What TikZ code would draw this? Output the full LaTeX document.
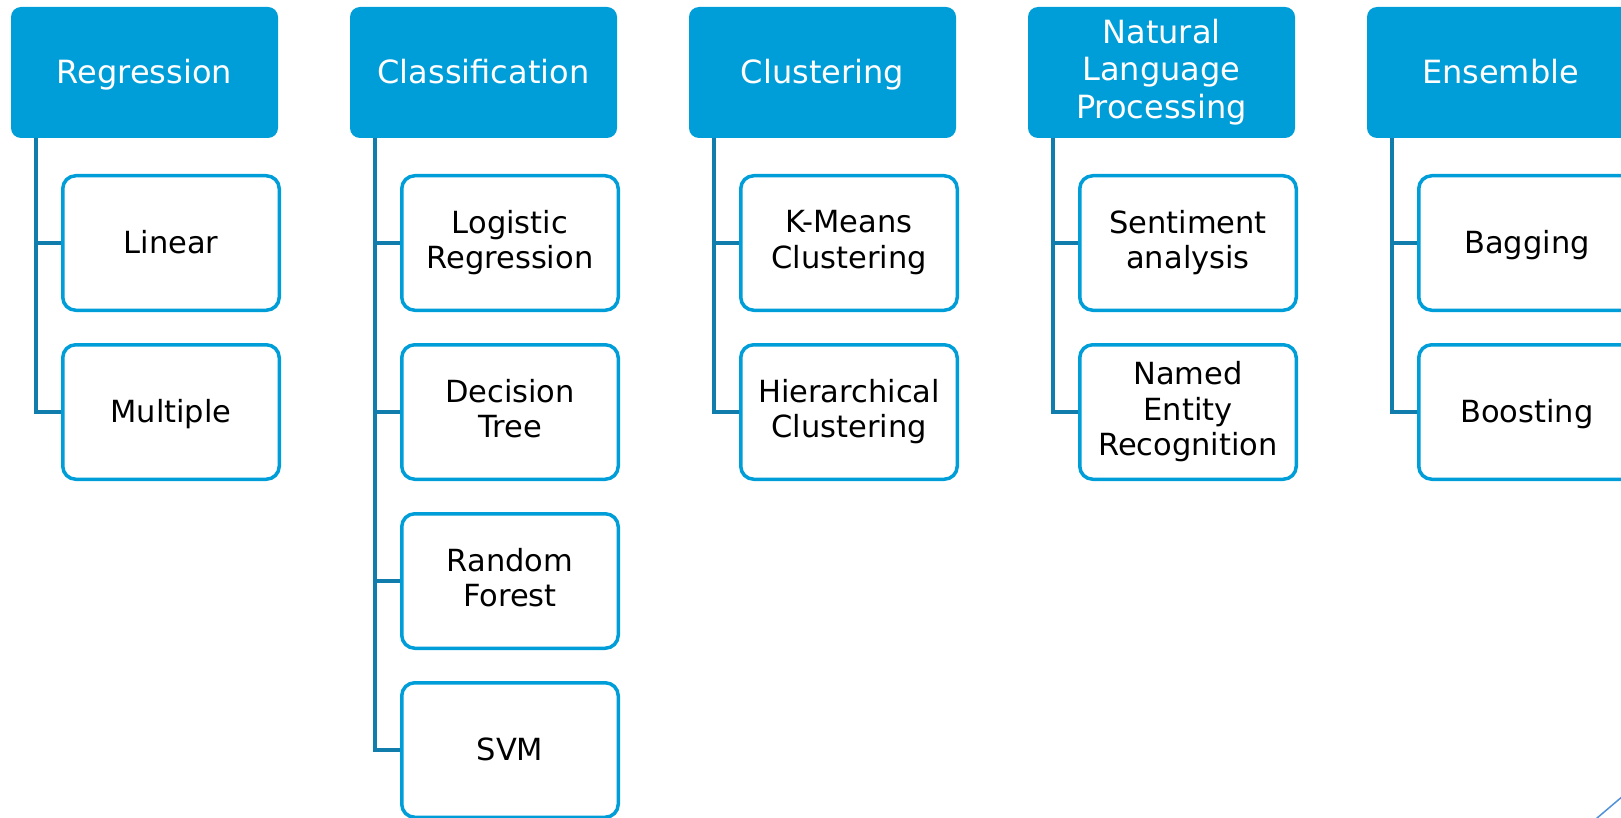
\documentclass[tikz,border=0pt]{standalone}
\usepackage{fontspec}
\setmainfont{DejaVu Sans}
\definecolor{hdrblue}{RGB}{0,158,216}
\definecolor{lineblue}{RGB}{16,125,172}
\definecolor{decoblue}{RGB}{80,145,215}
\newcommand\mystrut{\rule[-0.2\baselineskip]{0pt}{\baselineskip}}
\tikzset{
  hdr/.style={fill=hdrblue, draw=none, rounded corners=10pt, minimum width=267pt, minimum height=131pt,
    text=white, align=center, inner sep=0pt, font=\fontsize{32}{37.5}\selectfont,
    execute at begin node=\mystrut, execute at end node=\mystrut},
  child/.style={draw=hdrblue, line width=3.5pt, fill=white, rounded corners=13pt, minimum width=216.5pt,
    minimum height=134.5pt, text=black, align=center, inner sep=0pt, font=\fontsize{30.5}{35.5}\selectfont,
    execute at begin node=\mystrut, execute at end node=\mystrut},
  conn/.style={draw=lineblue, line width=3.3pt}
}
\begin{document}
\begin{tikzpicture}[x=1pt,y=-1pt]
\useasboundingbox (0,0) rectangle (1621,818);
\clip (0,0) rectangle (1621,818);
% headers
\node[hdr] (h1) at (144.5,72.5) {Regression};
\node[hdr] (h2) at (483.5,72.5) {Classification};
\node[hdr] (h3) at (822.5,72.5) {Clustering};
\node[hdr] (h4) at (1161.5,72.5) {Natural\\Language\\Processing};
\node[hdr] (h5) at (1500.5,72.5) {Ensemble};
% connector tops
\coordinate (v1) at (36,138);
\coordinate (v2) at (375,138);
\coordinate (v3) at (714,138);
\coordinate (v4) at (1053,138);
\coordinate (v5) at (1392,138);
% children
\node[child] (c1a) at (171,243) {Linear};
\node[child] (c1b) at (171,412) {Multiple};
\node[child] (c2a) at (510,243) {Logistic\\Regression};
\node[child] (c2b) at (510,412) {Decision\\Tree};
\node[child] (c2c) at (510,581) {Random\\Forest};
\node[child] (c2d) at (510,750) {SVM};
\node[child] (c3a) at (849,243) {K-Means\\Clustering};
\node[child] (c3b) at (849,412) {Hierarchical\\Clustering};
\node[child] (c4a) at (1188,243) {Sentiment\\analysis};
\node[child] (c4b) at (1188,412) {Named\\Entity\\Recognition};
\node[child] (c5a) at (1527,243) {Bagging};
\node[child] (c5b) at (1527,412) {Boosting};
% connectors
\draw[conn] (v1) |- (c1a.west);
\draw[conn] (v1) |- (c1b.west);
\draw[conn] (v2) |- (c2a.west);
\draw[conn] (v2) |- (c2b.west);
\draw[conn] (v2) |- (c2c.west);
\draw[conn] (v2) |- (c2d.west);
\draw[conn] (v3) |- (c3a.west);
\draw[conn] (v3) |- (c3b.west);
\draw[conn] (v4) |- (c4a.west);
\draw[conn] (v4) |- (c4b.west);
\draw[conn] (v5) |- (c5a.west);
\draw[conn] (v5) |- (c5b.west);
% decoration line bottom right
\draw[decoblue, line width=1.5pt] (1590,824) -- (1630,790);
\end{tikzpicture}
\end{document}
